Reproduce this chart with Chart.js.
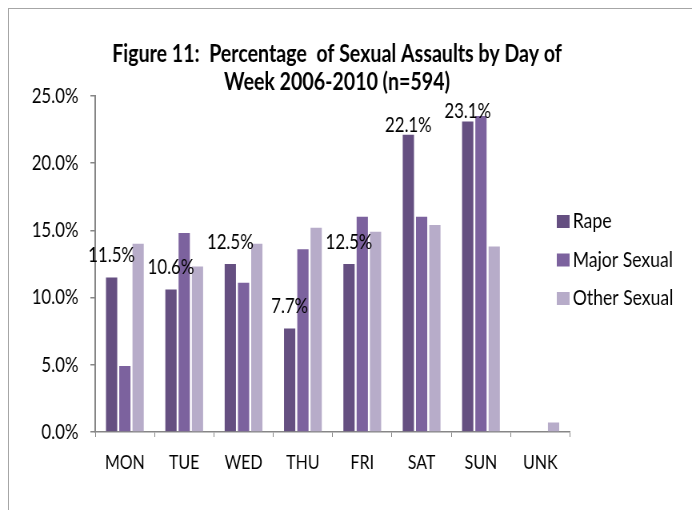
<!DOCTYPE html>
<html>
<head>
<meta charset="utf-8">
<script src="https://cdn.jsdelivr.net/npm/chart.js@4.4.1/dist/chart.umd.min.js"></script>
<style>
  body { margin: 0; background: #fff; }
  #wrap { position: relative; width: 692px; height: 510px; overflow: hidden; }
  #frame { position: absolute; left: 8px; top: 8px; width: 720px; height: 540px; border: 1px solid #a6a6a6; }
  /* the original picture is squeezed sideways, so the canvas is drawn wider and squeezed the same way */
  canvas { position: absolute; left: 0; top: 0; transform: scaleX(0.8); transform-origin: 0 0; }
</style>
</head>
<body>
<div id="wrap">
  <div id="frame"></div>
  <canvas id="barChart" width="865" height="510"></canvas>
</div>
<script>
// days of week, values in percent
var days = ['MON', 'TUE', 'WED', 'THU', 'FRI', 'SAT', 'SUN', 'UNK'];
var rape = [11.5, 10.6, 12.5, 7.7, 12.5, 22.1, 23.1, 0];
var majorSexual = [4.9, 14.8, 11.1, 13.6, 16.0, 16.0, 23.5, 0];
var otherSexual = [14.0, 12.3, 14.0, 15.2, 14.9, 15.4, 13.8, 0.7];
var yTicks = [0, 5, 10, 15, 20, 25];

var fontFam = "Lato, 'Open Sans', sans-serif";
var axisGrey = '#868686';

// labels over the Rape bars
var rapeLabels = {
    id: 'rapeLabels',
    afterDatasetsDraw: function(chart) {
        var ctx = chart.ctx;
        var meta = chart.getDatasetMeta(0);
        ctx.save();
        ctx.font = '21px ' + fontFam;
        ctx.fillStyle = '#000';
        ctx.textAlign = 'center';
        ctx.textBaseline = 'middle';
        meta.data.forEach(function(bar, i) {
            var v = rape[i];
            if (!v) return;
            var off = v > 20 ? 10 : 22;
            ctx.fillText(v.toFixed(1) + '%', bar.x, bar.y - off);
        });
        ctx.restore();
    }
};

// legend drawn by hand so it can sit where the original had it
var sideLegend = {
    id: 'sideLegend',
    afterDraw: function(chart) {
        var ctx = chart.ctx;
        ctx.save();
        ctx.font = '22px ' + fontFam;
        ctx.textBaseline = 'middle';
        chart.data.datasets.forEach(function(ds, i) {
            var cy = 221 + i * 38.5;
            ctx.fillStyle = ds.backgroundColor;
            ctx.fillRect(696, cy - 6, 16, 13);
            ctx.fillStyle = '#000';
            ctx.fillText(ds.label, 716, cy);
        });
        ctx.restore();
    }
};

var ctx = document.getElementById('barChart').getContext('2d');
new Chart(ctx, {
    type: 'bar',
    data: {
        labels: days,
        datasets: [
            { label: 'Rape', data: rape, backgroundColor: '#654f81' },
            { label: 'Major Sexual', data: majorSexual, backgroundColor: '#7c629e' },
            { label: 'Other Sexual', data: otherSexual, backgroundColor: '#b7acc9' }
        ]
    },
    options: {
        responsive: false,
        animation: false,
        devicePixelRatio: 1,
        layout: { padding: { left: 0, right: 22.5, top: 0, bottom: 0 } },
        datasets: { bar: { categoryPercentage: 0.67, barPercentage: 0.85 } },
        plugins: {
            legend: { display: false },
            tooltip: { enabled: false },
            title: {
                display: true,
                text: ['Figure 11:  Percentage  of Sexual Assaults by Day of', 'Week 2006-2010 (n=594)'],
                color: '#000',
                font: { family: fontFam, size: 24.5, weight: 'bold', lineHeight: 1.14 },
                padding: { top: 40, bottom: 0 }
            }
        },
        scales: {
            x: {
                grid: { display: true, drawOnChartArea: false, color: axisGrey, tickLength: 5, offset: true },
                border: { color: axisGrey, width: 1.5 },
                ticks: { color: '#000', font: { family: fontFam, size: 20 }, padding: 14, maxRotation: 0, autoSkip: false },
                afterFit: function(s) { s.height = 78; }
            },
            y: {
                min: 0,
                max: 25,
                afterBuildTicks: function(s) { s.ticks = yTicks.map(function(v) { return { value: v }; }); },
                grid: { display: true, drawOnChartArea: false, color: axisGrey, tickLength: 6, lineWidth: 1.5 },
                border: { color: axisGrey, width: 2 },
                ticks: {
                    color: '#000',
                    font: { family: fontFam, size: 21 },
                    padding: 15,
                    callback: function(v) { return v.toFixed(1) + '%'; }
                },
                afterFit: function(s) { s.width = 119; }
            },
            spacer: {
                position: 'right',
                display: true,
                grid: { display: false },
                border: { display: false },
                ticks: { display: false },
                afterFit: function(s) { s.width = 130; }
            }
        }
    },
    plugins: [rapeLabels, sideLegend]
});
</script>
</body>
</html>
